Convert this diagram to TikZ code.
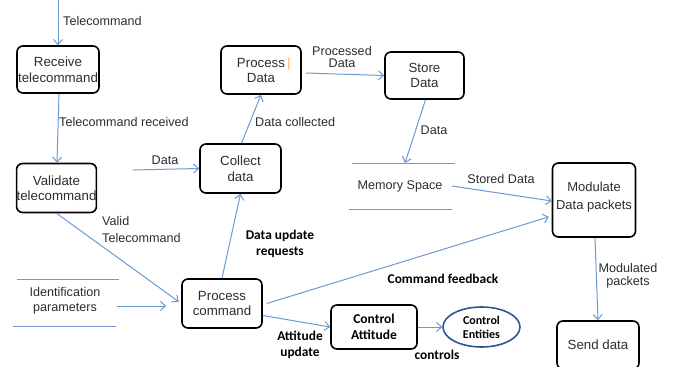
\documentclass[tikz,border=0pt]{standalone}
\usepackage{fontspec}
\setmainfont{Liberation Sans}
\newfontfamily\cfont{Carlito}
\usetikzlibrary{arrows.meta,shapes.geometric}
\definecolor{flow}{RGB}{108,152,212}
\definecolor{ink}{RGB}{45,45,45}
\definecolor{ellc}{RGB}{47,85,151}
\begin{document}
\begin{tikzpicture}[x=1pt,y=-1pt,
  proc/.style={draw=black,line width=1.6pt,rounded corners=6pt,align=center,inner sep=0pt,font=\fontsize{13.3}{15.5}\selectfont,text=ink},
  bproc/.style={proc,font=\cfont\bfseries\fontsize{13.5}{16}\selectfont,text=black},
  flowline/.style={draw=flow,line width=1pt,-{Straight Barb[length=5pt,width=9pt]}},
  storeline/.style={draw=flow,line width=1pt},
  lbl/.style={font=\fontsize{12.6}{14}\selectfont,text=ink,align=center,inner sep=0pt},
  blbl/.style={font=\cfont\bfseries\fontsize{13.4}{15.5}\selectfont,text=black,align=center,inner sep=0pt}]
\useasboundingbox (0,0) rectangle (673,367);

% process boxes
\node[proc,minimum width=82pt,minimum height=47pt] (recv) at (58,69.5) {Receive\\telecommand};
\node[proc,minimum width=80pt,minimum height=48pt] (pdata) at (261,70) {Process\rlap{\,\color{orange!60}|}\\Data};
\node[proc,minimum width=79pt,minimum height=49pt] (val) at (56.5,188) {Validate\\telecommand};
\node[proc,minimum width=81pt,minimum height=49pt] (coll) at (240.5,168.5) {Collect\\data};
\node[proc,minimum width=79pt,minimum height=47pt] (store) at (424.5,75.5) {Store\\Data};
\node[proc,minimum width=83pt,minimum height=74pt,font=\fontsize{13}{15}\selectfont] (mod) at (594,200) {Modulate\\[3pt]Data packets\\[-6pt]\mbox{}};
\node[proc,minimum width=80pt,minimum height=49pt] (pc) at (222,303.5) {Process\\command};
\node[bproc,minimum width=86pt,minimum height=44pt] (ca) at (374,327) {Control\\Attitude};
\node[ellipse,draw=ellc,line width=1.6pt,minimum width=77pt,minimum height=40pt,inner sep=0pt,
      font=\cfont\bfseries\fontsize{12}{14}\selectfont,align=center] (ce) at (481.5,327) {Control\\Entities};
\node[proc,minimum width=82pt,minimum height=48pt] (send) at (598,345) {Send data};

% data stores
\node[lbl] (mem) at (400,186) {Memory Space};
\draw[storeline] (352,163) -- (455,163);
\draw[storeline] (349,209) -- (452,209);
\node[lbl] (idp) at (65,301) {Identification\\[1pt]parameters};
\draw[storeline] (17,279) -- (119,279);
\draw[storeline] (13,326) -- (116,326);

% free ends
\coordinate (tcin) at (58,0);
\coordinate (din) at (133,170);
\coordinate (memtop) at (405,163);
\coordinate (memout) at (452,186);
\coordinate (idout) at (117,306);

% connectors
\draw[flowline] (tcin) -- (recv.north);
\node[lbl,anchor=west] at (63,21) {Telecommand};

\draw[flowline] ([xshift=1pt]recv.south) -- ([xshift=0.5pt]val.north);
\node[lbl,anchor=west] at (59,122) {Telecommand received};

\draw[flowline] (din) -- (coll.west);
\node[lbl] at (165,160) {Data};

\draw[flowline] ([xshift=1pt]coll.north) -- (pdata.south);
\node[lbl,anchor=west] at (255,122) {Data collected};

\draw[flowline] ([xshift=4pt,yshift=-3pt]pdata.east) -- (store.west);
\node[lbl] at (342,57) {Processed\\[-2pt]Data};

\draw[flowline] ([xshift=1pt]store.south) -- (memtop);
\node[lbl] at (434,130) {Data};

\draw[flowline] (memout) -- ([yshift=-1pt]mod.west);
\node[lbl] at (501,179) {Stored Data};

\draw[flowline,shorten >=3pt] (val.south) -- (pc.west);
\node[lbl,anchor=north west,align=left] at (102,216) {Valid\\[3pt]Telecommand};

\draw[flowline,shorten >=15pt] (idout) -- ([yshift=-2.5pt]pc.west);

\draw[flowline] (pc.north) -- (coll.south);
\node[blbl] at (280,244) {Data update\\requests};

\draw[flowline,shorten >=3pt] ([xshift=4pt]pc.east) -- ([yshift=-16pt]mod.west);
\node[blbl] at (443,279) {Command feedback};

\draw[flowline] ([yshift=-12pt]pc.east) -- (ca.west);
\node[blbl] at (300,345) {Attitude\\update};

\draw[flowline] (ca.east) -- (ce.west);
\node[blbl] at (437,355) {controls};

\draw[flowline] ([xshift=1pt]mod.south) -- (send.north);
\node[lbl] at (628,276) {Modulated\\[-1pt]packets};
\end{tikzpicture}
\end{document}
